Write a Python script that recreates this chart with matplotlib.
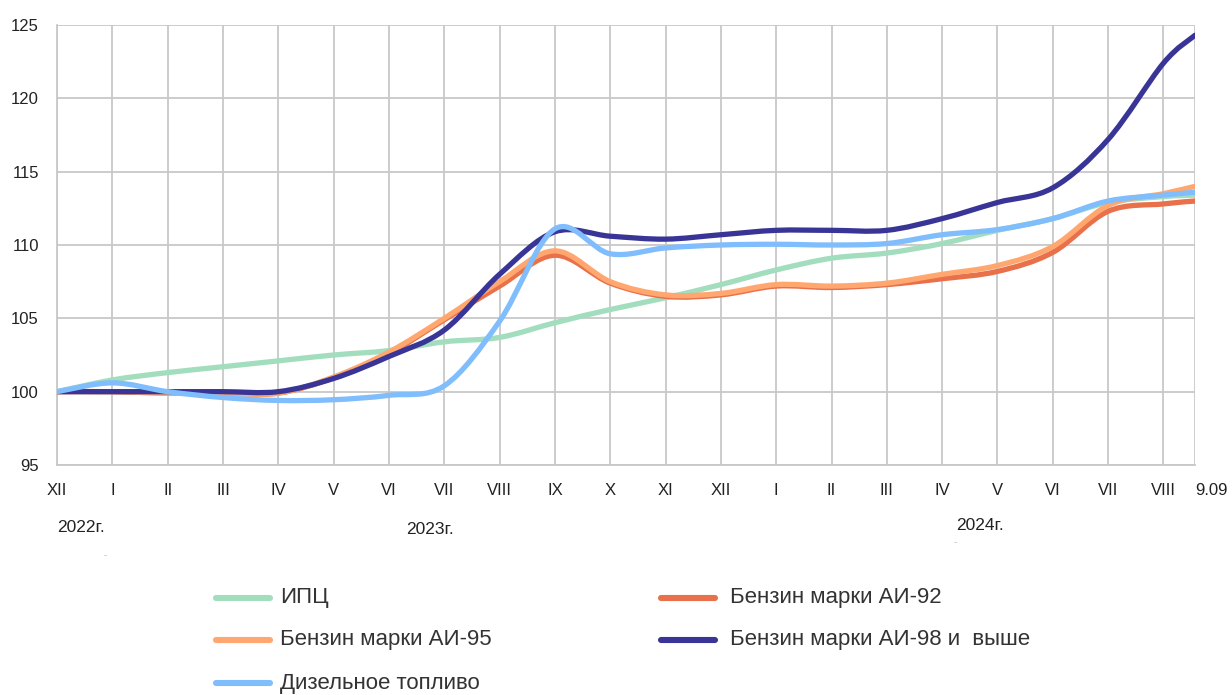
import numpy as np
import matplotlib.pyplot as plt
from matplotlib.path import Path
from matplotlib.patches import PathPatch
from matplotlib.lines import Line2D

plt.rcParams['font.family'] = ['Liberation Sans', 'DejaVu Sans']

months = ["XII", "I", "II", "III", "IV", "V", "VI", "VII", "VIII", "IX", "X", "XI",
          "XII", "I", "II", "III", "IV", "V", "VI", "VII", "VIII", "9.09"]
# position of each point on the month axis (last point is 9 September 2024)
x_pos = list(range(21)) + [20.57]

cpi = [100.0, 100.8, 101.3, 101.7, 102.1, 102.5, 102.8, 103.4, 103.7, 104.7, 105.6,
       106.4, 107.3, 108.3, 109.1, 109.45, 110.1, 111.0, 111.8, 112.9, 113.3, 113.4]
ai92 = [100.0, 100.0, 99.9, 99.9, 99.9, 100.95, 102.6, 104.9, 107.2, 109.3, 107.4,
        106.5, 106.6, 107.2, 107.1, 107.3, 107.7, 108.2, 109.5, 112.3, 112.8, 113.0]
ai95 = [100.0, 100.0, 99.9, 99.9, 99.9, 101.0, 102.7, 105.0, 107.5, 109.6, 107.5,
        106.6, 106.7, 107.3, 107.2, 107.4, 108.0, 108.6, 109.9, 112.7, 113.5, 114.0]
ai98 = [100.0, 100.0, 100.0, 100.0, 100.0, 100.9, 102.4, 104.2, 108.0, 110.9, 110.6,
        110.4, 110.7, 111.0, 111.0, 111.0, 111.8, 112.9, 113.9, 117.2, 122.4, 124.3]
diesel = [100.0, 100.6, 100.0, 99.6, 99.4, 99.45, 99.75, 100.4, 104.8, 111.1, 109.4,
          109.8, 110.0, 110.05, 110.0, 110.1, 110.7, 111.05, 111.8, 113.0, 113.4, 113.6]

series = [
    ("ИПЦ", cpi, "#A2DDBE"),
    ("Бензин марки АИ-92", ai92, "#E8704A"),
    ("Бензин марки АИ-95", ai95, "#FFA76E"),
    ("Бензин марки АИ-98 и  выше", ai98, "#393597"),
    ("Дизельное топливо", diesel, "#7FBDFD"),
]


def smooth_path(xs, ys):
    # Excel-like smoothed line: cubic Bezier through every data point
    pts = np.column_stack([xs, ys])
    n = len(pts)
    verts = [pts[0]]
    codes = [Path.MOVETO]
    for i in range(n - 1):
        p0 = pts[max(i - 1, 0)]
        p1 = pts[i]
        p2 = pts[i + 1]
        p3 = pts[min(i + 2, n - 1)]
        c1 = p1 + (p2 - p0) / 6.0
        c2 = p2 - (p3 - p1) / 6.0
        verts += [c1, c2, p2]
        codes += [Path.CURVE4] * 3
    return Path(verts, codes)


fig = plt.figure(figsize=(12.32, 6.95), dpi=100)
ax = fig.add_axes([57 / 1232, 1 - 465 / 695, (1195 - 57) / 1232, (465 - 25) / 695])

for name, vals, color in series:
    patch = PathPatch(smooth_path(x_pos, vals), facecolor="none", edgecolor=color,
                      lw=3.8, capstyle="round", joinstyle="round", zorder=3)
    ax.add_patch(patch)

ax.set_xlim(0, x_pos[-1])
ax.set_ylim(95, 125)
ax.set_yticks([95, 100, 105, 110, 115, 120, 125])
ax.set_xticks(x_pos)
ax.set_xticklabels(months)
ax.grid(True, color="#C8C8C8", lw=1.3)
ax.set_axisbelow(True)
for s in ["top", "right"]:
    ax.spines[s].set_visible(False)
for s in ["left", "bottom"]:
    ax.spines[s].set_color("#C8C8C8")
    ax.spines[s].set_linewidth(1.3)
ax.tick_params(length=0, labelsize=12, colors="#222222")
ax.tick_params(axis="y", pad=13)
ax.tick_params(axis="x", pad=13)
ax.get_xticklabels()[-1].set_horizontalalignment("left")
ax.get_xticklabels()[-1].set_x(x_pos[-1] - 0.2)

# year labels
fig.text(57 / 1232, 1 - 527 / 695, "2022г.", fontsize=12.5, color="#222222", va="center")
fig.text(430 / 1232, 1 - 529 / 695, "2023г.", fontsize=12.5, color="#222222", va="center", ha="center")
fig.text(980 / 1232, 1 - 525 / 695, "2024г.", fontsize=12.5, color="#222222", va="center", ha="center")
fig.text(105 / 1232, 1 - 555 / 695, "-", fontsize=7, color="#BBBBBB", va="center", ha="center")
fig.text(955 / 1232, 1 - 542 / 695, "-", fontsize=7, color="#BBBBBB", va="center", ha="center")

# legend
rows = [598, 640, 683]
legend_pos = [(216, rows[0]), (661, rows[0]), (216, rows[1]), (661, rows[1]), (216, rows[2])]
text_gap = [64, 69, 64, 69, 64]
for (name, vals, color), (lx, ly), gap in zip(series, legend_pos, text_gap):
    yf = 1 - ly / 695
    fig.add_artist(Line2D([lx / 1232, (lx + 54) / 1232], [yf, yf], color=color, lw=4.4,
                          solid_capstyle="round", transform=fig.transFigure))
    fig.text((lx + gap) / 1232, yf, name, fontsize=16, color="#333333", va="center")

fig.savefig("out.png", dpi=100)
